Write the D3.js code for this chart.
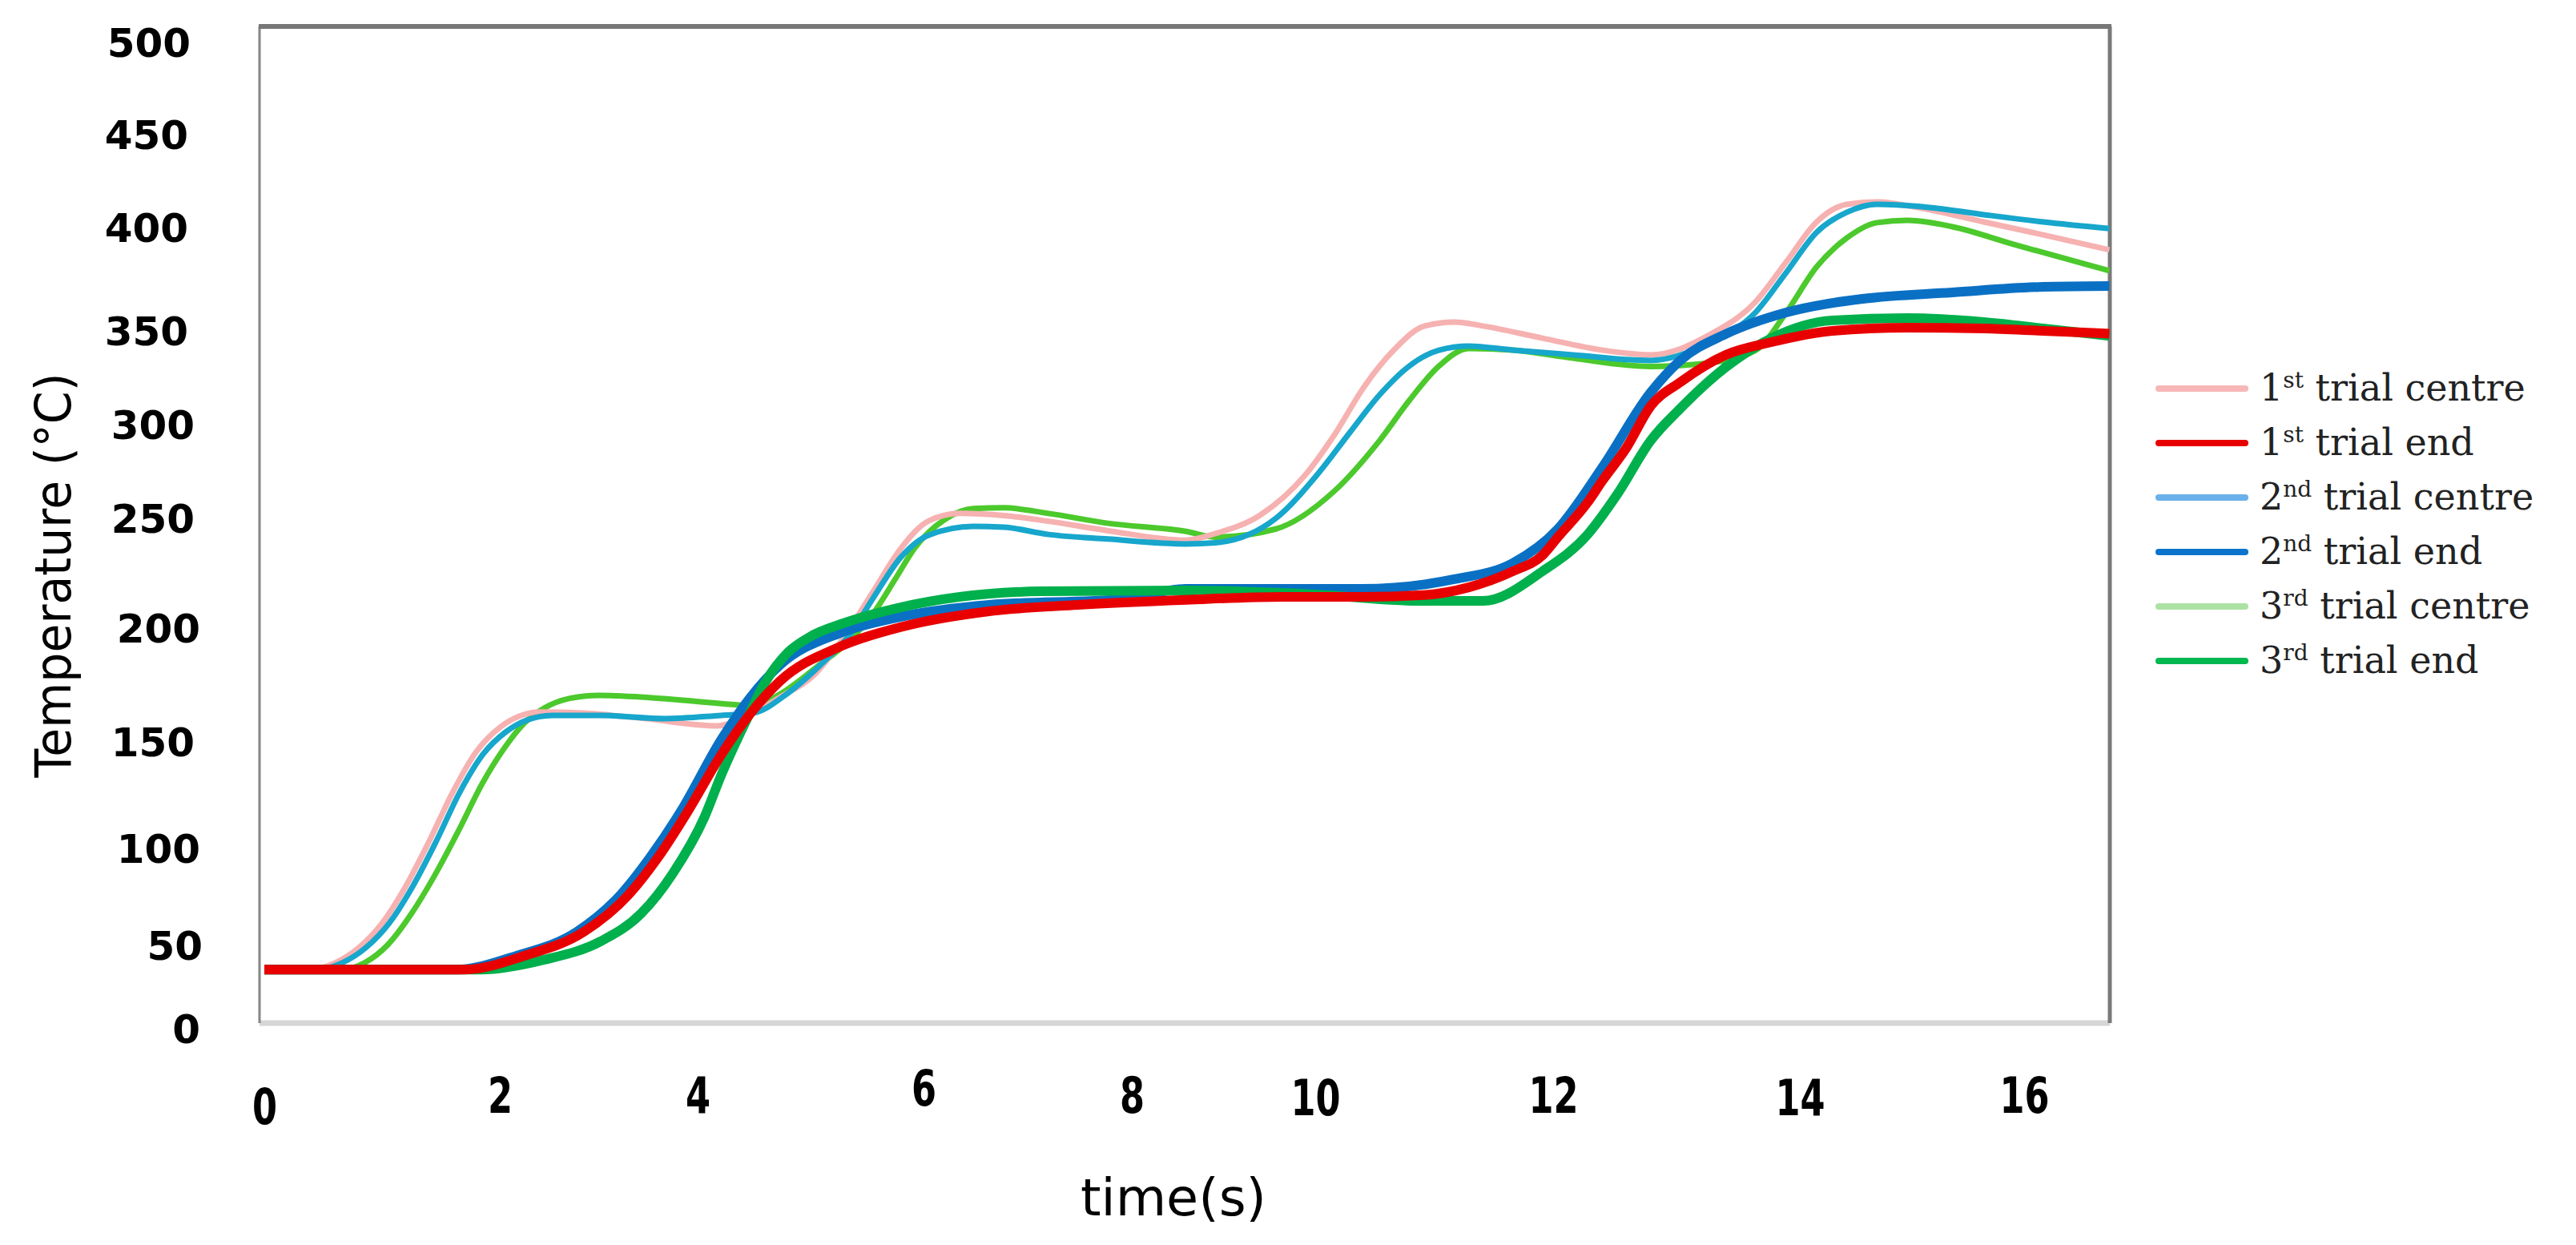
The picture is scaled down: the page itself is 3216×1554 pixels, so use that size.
<!DOCTYPE html>
<html>
<head>
<meta charset="utf-8">
<script src="https://cdn.jsdelivr.net/npm/d3@7"></script>
<style>
  html, body { margin: 0; padding: 0; background: #fff; }
  svg { display: block; }
</style>
</head>
<body>
<div id="chart"></div>
<script>
// axis ticks
var xTicks = [0, 2, 4, 6, 8, 10, 12, 14, 16];
var yTicks = [0, 50, 100, 150, 200, 250, 300, 350, 400, 450, 500];

// series
var seriesNames = ["1st trial centre", "1st trial end", "2nd trial centre", "2nd trial end", "3rd trial centre", "3rd trial end"];

var time1Centre = [0, 0.39, 0.6, 0.8, 1.0, 1.2, 1.4, 1.6, 1.8, 2.0, 2.2, 2.4, 2.85, 3.46, 4.18, 4.42, 4.72, 5.05, 5.3, 5.55, 5.8, 6.05, 6.35, 6.77, 7.2, 7.77, 8.59, 8.91, 9.4, 9.89, 10.16, 10.41, 10.66, 10.92, 11.17, 11.41, 11.91, 12.4, 12.79, 13.28, 13.64, 13.89, 14.15, 14.42, 14.69, 15.09, 15.64, 16.17, 16.76];
var temp1Centre = [35, 35, 39, 48, 61, 80, 103, 126, 145, 156, 161, 162.8, 162.3, 159.9, 156.7, 160.6, 169, 180, 196, 216, 236, 248.5, 252.2, 251.1, 248.3, 244, 239.7, 242.7, 251.3, 272.6, 294, 319.7, 339.3, 352, 353.9, 352, 345.7, 339.3, 336.8, 347.9, 363.6, 383, 402.6, 412.1, 413.4, 409.9, 402.6, 396.1, 388.8];

var time1End = [0, 1.7, 2.25, 2.85, 3.3, 3.6, 3.9, 4.21, 4.47, 4.73, 5.26, 5.79, 6.63, 7.48, 8.59, 9.63, 10.39, 10.91, 11.29, 11.66, 11.91, 12.04, 12.28, 12.4, 12.59, 12.79, 13.03, 13.4, 13.77, 14.29, 14.96, 15.64, 16.17, 16.76];
var temp1End = [35, 35, 43.3, 56.6, 75.6, 95, 117, 143.7, 162.3, 176.4, 191.5, 200, 207.3, 210.2, 212.5, 213.9, 213.9, 214.7, 218.2, 225.5, 232.8, 241.2, 258.1, 269.7, 286.8, 309.4, 322.2, 336.8, 343.6, 349.6, 351.2, 350.8, 349.6, 348.1];

var time2Centre = [0, 0.45, 0.66, 0.86, 1.06, 1.26, 1.46, 1.66, 1.86, 2.06, 2.26, 2.53, 3.02, 3.67, 4.21, 4.49, 4.8, 5.12, 5.35, 5.55, 5.8, 6.05, 6.48, 6.77, 7.2, 7.77, 8.59, 8.91, 9.57, 10.03, 10.29, 10.54, 10.79, 11.04, 11.29, 11.66, 12.16, 12.79, 13.28, 13.64, 13.89, 14.15, 14.42, 14.69, 15.09, 15.64, 16.17, 16.76];
var temp2Centre = [35, 35, 39, 48, 61, 80, 103, 126, 144, 154, 159, 161.3, 161.3, 159.9, 161.3, 162.3, 171.1, 185, 197, 213, 232, 242, 246, 245.6, 242.3, 240.2, 238, 238.5, 249.6, 273.9, 295.3, 315.4, 330.8, 339.3, 341.5, 339.3, 336.8, 333.8, 343.6, 358.5, 377.9, 397.3, 407.8, 412.1, 410.8, 406.5, 402.6, 399.1];

var time2End = [0, 1.63, 2.17, 2.78, 3.22, 3.52, 3.83, 4.21, 4.47, 4.73, 5.26, 5.79, 6.63, 7.9, 8.59, 10.39, 11.17, 11.66, 12.04, 12.4, 12.79, 13.03, 13.4, 13.89, 14.56, 15.36, 16.17, 16.76];
var temp2End = [35, 35, 43.3, 56.6, 75.6, 95, 117, 150.7, 169.4, 183.5, 197.5, 204.7, 210.2, 212.8, 217.5, 217.5, 221.9, 229.2, 244.9, 276.9, 316.7, 333.8, 347.9, 358.5, 365.1, 368.2, 370.9, 371.3];

var time3Centre = [0, 0.67, 0.85, 1.05, 1.25, 1.45, 1.65, 1.85, 2.05, 2.25, 2.45, 2.7, 3.0, 3.42, 4.21, 4.5, 4.72, 5.05, 5.36, 5.55, 5.75, 5.92, 6.2, 6.48, 6.77, 7.2, 7.77, 8.59, 8.91, 9.57, 10.16, 10.54, 10.79, 11.04, 11.29, 11.66, 12.16, 12.79, 13.28, 13.64, 13.89, 14.15, 14.42, 14.69, 14.96, 15.36, 15.91, 16.76];
var temp3Centre = [35, 35, 39, 50, 66, 86, 108, 130, 147, 158, 164.5, 168.7, 170.1, 169.4, 166.5, 165.5, 170.4, 182.4, 195, 206, 222, 236, 249, 254.8, 255.2, 252.2, 247.4, 243.7, 241.1, 244.8, 264.1, 291, 312.4, 330.8, 340.2, 339.3, 335, 330.6, 332.6, 339.1, 358.5, 380.6, 394.6, 402.2, 403.4, 400, 391.4, 378.7];

var time3End = [0, 1.84, 2.45, 3.02, 3.43, 3.75, 4.06, 4.21, 4.42, 4.6, 4.8, 5.0, 5.3, 5.79, 7.13, 8.59, 9.98, 10.91, 11.41, 11.91, 12.28, 12.52, 12.79, 13.03, 13.4, 13.77, 14.29, 14.96, 15.64, 16.17, 16.76];
var temp3End = [35, 35, 40.9, 51.7, 66.1, 86.8, 114.3, 134.2, 158, 176, 189, 196, 202, 209, 216.4, 216.8, 215, 212, 212, 225.5, 242.3, 262.4, 291, 308.1, 330.2, 345.7, 354.7, 355.8, 353.9, 350.8, 346.9];

var seriesTimes = [time1Centre, time1End, time2Centre, time2End, time3Centre, time3End];
var seriesTemps = [temp1Centre, temp1End, temp2Centre, temp2End, temp3Centre, temp3End];

// styling
var lineColors   = ["#f6b1b1", "#e80000", "#17a6cc", "#0a70c4", "#4cc92c", "#00b04c"];
var legendColors = ["#f7b7b7", "#e80000", "#6ab0ea", "#0a74cc", "#ade2a5", "#00b850"];
var lineWidths   = [7, 12, 7, 12, 7, 12];
var drawOrder    = [4, 0, 2, 3, 5, 1];

var W = 3216, H = 1554;
var frame = {left: 324, right: 2634, top: 33, bottom: 1277};

// the printed tick labels sit unevenly, so both scales go through them
var xScale = d3.scaleLinear().domain(xTicks).range([330, 624, 871, 1153, 1413, 1642, 1939, 2247, 2527]);
var yScale = d3.scaleLinear().domain(yTicks).range([1283, 1179, 1058, 925, 783, 646, 529, 412, 283, 167, 52]);

var svg = d3.select("#chart").append("svg")
    .attr("width", W)
    .attr("height", H);

svg.append("rect").attr("width", W).attr("height", H).attr("fill", "#fff");

// plot frame
svg.append("line").attr("x1", frame.left).attr("x2", frame.right).attr("y1", frame.bottom).attr("y2", frame.bottom)
    .attr("stroke", "#d6d6d6").attr("stroke-width", 7);
svg.append("line").attr("x1", frame.left).attr("x2", frame.left).attr("y1", frame.top).attr("y2", frame.bottom)
    .attr("stroke", "#858585").attr("stroke-width", 3);
svg.append("line").attr("x1", frame.right).attr("x2", frame.right).attr("y1", frame.top).attr("y2", frame.bottom)
    .attr("stroke", "#7a7a7a").attr("stroke-width", 5);
svg.append("line").attr("x1", frame.left - 1).attr("x2", frame.right + 2).attr("y1", frame.top).attr("y2", frame.top)
    .attr("stroke", "#777").attr("stroke-width", 6);

// lines
var line = d3.line()
    .x(function(d) { return xScale(d[0]); })
    .y(function(d) { return yScale(d[1]); })
    .curve(d3.curveMonotoneX);

var plot = svg.append("g");
drawOrder.forEach(function(i) {
  var pts = seriesTimes[i].map(function(t, k) { return [t, seriesTemps[i][k]]; });
  plot.append("path")
      .datum(pts)
      .attr("fill", "none")
      .attr("stroke", lineColors[i])
      .attr("stroke-width", lineWidths[i])
      .attr("stroke-linejoin", "round")
      .attr("stroke-linecap", "butt")
      .attr("d", line);
});

// y axis (labels were nudged by hand in the original)
var yLabelDx = [4, 7, 4, -3, 4, -3, -3, -11, -11, -11, -8];
var yAxis = svg.append("g")
    .attr("transform", "translate(246,0)")
    .call(d3.axisLeft(yScale).tickValues(yTicks).tickSize(0).tickPadding(0));
yAxis.select(".domain").remove();
yAxis.selectAll("text")
    .attr("x", function(d, i) { return yLabelDx[i]; })
    .attr("dy", "0.36em")
    .attr("fill", "#000")
    .style("font-family", "'DejaVu Sans', Verdana, sans-serif")
    .style("font-weight", "bold")
    .style("font-size", "50px");

// x axis
var xLabelDy = [14, 0, 0, -9, 0, 3, 0, 3, 0];
var xAxis = svg.append("g")
    .attr("transform", "translate(0,1367)")
    .call(d3.axisBottom(xScale).tickValues(xTicks).tickSize(0).tickPadding(0));
xAxis.select(".domain").remove();
xAxis.selectAll("text")
    .attr("y", function(d, i) { return xLabelDy[i]; })
    .attr("dy", "0.36em")
    .attr("transform", "scale(0.72,1)")
    .attr("fill", "#000")
    .style("font-family", "'DejaVu Sans', sans-serif")
    .style("font-weight", "bold")
    .style("font-size", "62px");

// axis titles
svg.append("text")
    .attr("x", 1465).attr("y", 1517)
    .attr("text-anchor", "middle")
    .attr("textLength", 232)
    .attr("lengthAdjust", "spacingAndGlyphs")
    .style("font-family", "'DejaVu Sans', sans-serif")
    .style("font-size", "64px")
    .text("time(s)");

svg.append("text")
    .attr("transform", "translate(88,718) rotate(-90)")
    .attr("text-anchor", "middle")
    .attr("textLength", 505)
    .attr("lengthAdjust", "spacingAndGlyphs")
    .style("font-family", "'DejaVu Sans', sans-serif")
    .style("font-size", "62px")
    .text("Temperature (°C)");

// legend
var legendSup = ["st", "st", "nd", "nd", "rd", "rd"];
var legend = svg.append("g").attr("transform", "translate(2695,485)");
seriesNames.forEach(function(name, i) {
  var g = legend.append("g").attr("transform", "translate(0," + (i * 68) + ")");
  g.append("line")
      .attr("x1", 0).attr("x2", 108)
      .attr("stroke", legendColors[i])
      .attr("stroke-width", 8)
      .attr("stroke-linecap", "round");
  var txt = g.append("text")
      .attr("x", 126).attr("y", 15)
      .attr("fill", "#222")
      .style("font-family", "'DejaVu Serif', serif")
      .style("font-size", "46px");
  txt.append("tspan").text(name.charAt(0));
  txt.append("tspan").attr("dy", -16).style("font-size", "28px").text(legendSup[i]);
  txt.append("tspan").attr("dy", 16).text(name.slice(3));
});
</script>
</body>
</html>
